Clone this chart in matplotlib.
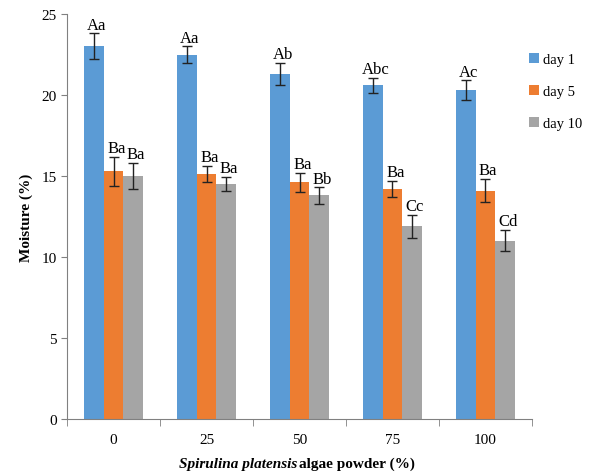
import numpy as np
import matplotlib.pyplot as plt

plt.rcParams['font.family'] = ['Liberation Serif', 'DejaVu Serif']

# data
doses = ['0', '25', '50', '75', '100']
series = ['day 1', 'day 5', 'day 10']
day1 = [23.0, 22.5, 21.3, 20.6, 20.3]
day5 = [15.3, 15.1, 14.6, 14.2, 14.1]
day10 = [15.0, 14.5, 13.8, 11.9, 11.0]
err1 = [0.8, 0.5, 0.7, 0.45, 0.6]
err5 = [0.9, 0.5, 0.6, 0.5, 0.7]
err10 = [0.8, 0.45, 0.5, 0.7, 0.65]
lab1 = ['Aa', 'Aa', 'Ab', 'Abc', 'Ac']
lab5 = ['Ba', 'Ba', 'Ba', 'Ba', 'Ba']
lab10 = ['Ba', 'Ba', 'Bb', 'Cc', 'Cd']

colors = ['#5B9BD5', '#ED7D31', '#A5A5A5']

fig = plt.figure(figsize=(5.89, 4.77), dpi=100)
ax = fig.add_axes([0.114, 0.1195, 0.789, 0.849])

x = np.arange(len(doses))
w = 0.21
vals = [day1, day5, day10]
errs = [err1, err5, err10]
labs = [lab1, lab5, lab10]
for i in range(3):
    xs = x + (i - 1) * w
    ax.bar(xs, vals[i], w, color=colors[i], label=series[i], zorder=2)
    ax.errorbar(xs, vals[i], yerr=errs[i], fmt='none', ecolor='#222222',
                elinewidth=1, capsize=3.5, capthick=1, zorder=3)
    for xi, v, e, t in zip(xs, vals[i], errs[i], labs[i]):
        ax.text(xi + 0.03, v + e + 0.05, t, ha='center', va='bottom', fontsize=12)

ax.set_xlim(-0.5, len(doses) - 0.5)
ax.set_ylim(0, 25)
ax.set_yticks([0, 5, 10, 15, 20, 25])
ax.set_xticks(x)
ax.set_xticklabels(doses)
ax.set_xticks(np.arange(len(doses) + 1) - 0.5, minor=True)
ax.tick_params(axis='x', which='major', length=0, pad=10, labelsize=11)
ax.tick_params(axis='x', which='minor', length=5, color='#808080')
ax.tick_params(axis='y', length=4, color='#808080', labelsize=11)
for s in ['top', 'right']:
    ax.spines[s].set_visible(False)
for s in ['left', 'bottom']:
    ax.spines[s].set_color('#808080')

ax.set_ylabel('Moisture (%)', fontsize=11, fontweight='bold', labelpad=6)
ax.text(0.495, -0.11, 'Spirulina platensis', transform=ax.transAxes,
        ha='right', va='center', fontsize=11, fontweight='bold', style='italic')
ax.text(0.499, -0.11, 'algae powder (%)', transform=ax.transAxes,
        ha='left', va='center', fontsize=11, fontweight='bold')

fig.legend(loc='upper left', bbox_to_anchor=(0.875, 0.915), frameon=False,
           fontsize=10.5, handlelength=0.7, handleheight=0.7, handletextpad=0.3,
           labelspacing=1.3)

fig.savefig('out.png', dpi=100)
